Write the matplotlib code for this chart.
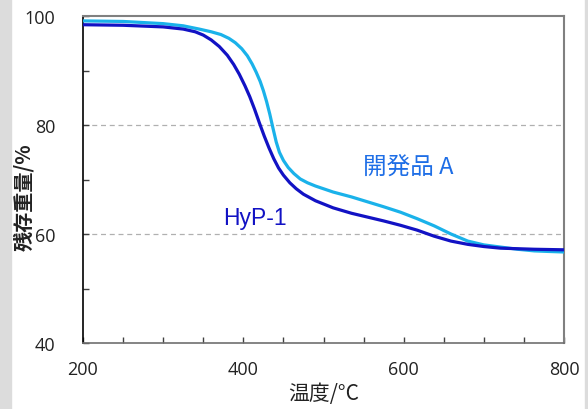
import matplotlib.pyplot as plt
from matplotlib.ticker import MultipleLocator, FixedLocator

# TGA curves: temperature (C) vs residual weight (%)
temp_a = [200, 250, 300, 325, 345, 360, 372, 382, 390, 398, 405, 411, 416, 421,
          425, 429, 433, 437, 441, 445, 450, 456, 463, 471, 480, 490, 512, 535,
          555, 575, 596, 617, 638, 659, 680, 700, 721, 742, 763, 780, 800]
weight_a = [99.1, 99.0, 98.6, 98.2, 97.6, 97.1, 96.6, 95.9, 95.1, 94.0, 92.7, 91.2,
            89.7, 88.0, 86.3, 84.3, 82.0, 79.4, 76.9, 75.0, 73.5, 72.2, 71.1, 70.1,
            69.4, 68.8, 67.7, 66.8, 65.9, 65.0, 64.0, 62.8, 61.5, 60.0, 58.7, 58.0,
            57.6, 57.2, 56.9, 56.8, 56.7]

temp_hyp = [200, 250, 300, 325, 340, 350, 360, 370, 380, 388, 395, 402, 408, 414,
            420, 426, 432, 438, 444, 450, 458, 466, 475, 490, 512, 535, 555, 575,
            596, 617, 638, 659, 680, 700, 721, 742, 763, 800]
weight_hyp = [98.4, 98.3, 98.0, 97.6, 97.1, 96.5, 95.6, 94.4, 92.8, 91.1, 89.3, 87.2,
              85.2, 82.9, 80.4, 78.0, 75.8, 73.8, 72.1, 70.8, 69.4, 68.3, 67.3, 66.1,
              64.8, 63.8, 63.1, 62.4, 61.6, 60.7, 59.6, 58.7, 58.1, 57.7, 57.4, 57.3,
              57.2, 57.1]

x_ticks = [200, 400, 600, 800]
y_ticks = [40, 60, 80, 100]

CJK = ['Noto Sans CJK JP', 'DejaVu Sans']
TICK_FONT = 'Open Sans'

fig = plt.figure(figsize=(5.88, 4.10), dpi=100)
fig.patch.set_facecolor('white')
# grey side strips
fig.add_artist(plt.Rectangle((0, 0), 11 / 588, 1, transform=fig.transFigure,
                             color='#dcdcdc', zorder=0))
fig.add_artist(plt.Rectangle((585 / 588, 0), 3 / 588, 1, transform=fig.transFigure,
                             color='#dcdcdc', zorder=0))

ax = fig.add_axes([83 / 588, 1 - 344 / 410, 481 / 588, 327 / 410])

ax.plot(temp_a, weight_a, color='#1ab2ea', lw=2.3, solid_joinstyle='round',
        solid_capstyle='round', zorder=3)
ax.plot(temp_hyp, weight_hyp, color='#1212c4', lw=2.3, solid_joinstyle='round',
        solid_capstyle='round', zorder=4)

ax.set_xlim(200, 800)
ax.set_ylim(40, 100)
ax.xaxis.set_major_locator(FixedLocator(x_ticks))
ax.yaxis.set_major_locator(FixedLocator(y_ticks))
ax.xaxis.set_minor_locator(MultipleLocator(50))
ax.yaxis.set_minor_locator(MultipleLocator(10))

for y in [60, 80]:
    ax.axhline(y, color='#b0b0b0', lw=0.9, ls=(0, (4, 3)), zorder=1)

ax.tick_params(which='both', direction='in', length=4, width=1, color='#404040')
ax.tick_params(axis='x', pad=12)
ax.tick_params(axis='y', pad=20)
for lab in ax.get_xticklabels() + ax.get_yticklabels():
    lab.set_fontfamily(TICK_FONT)
    lab.set_fontsize(13)
    lab.set_color('#222222')

ax.spines['left'].set_color('black')
ax.spines['left'].set_linewidth(1.2)
ax.spines['bottom'].set_color('#707070')
ax.spines['bottom'].set_linewidth(1.2)
for s in ['top', 'right']:
    ax.spines[s].set_color('#808080')
    ax.spines[s].set_linewidth(1.5)

ax.set_xlabel('温度/°C', family=CJK, fontsize=15, color='#222222', labelpad=3)
fig.text(24 / 588, 1 - 197 / 410, '残存重量/%', family=CJK, fontsize=14.5,
         fontweight='bold', color='#222222', rotation=90, ha='center', va='center')

ax.text(549, 72.3, '開発品 A', family=CJK, fontsize=17, color='#1e6ee6',
        va='center', ha='left')
ax.text(375, 63.1, 'HyP-1', family=['Liberation Sans', 'DejaVu Sans'], fontsize=16.5,
        color='#1212c4', va='center', ha='left')

fig.savefig('out.png', dpi=100)
